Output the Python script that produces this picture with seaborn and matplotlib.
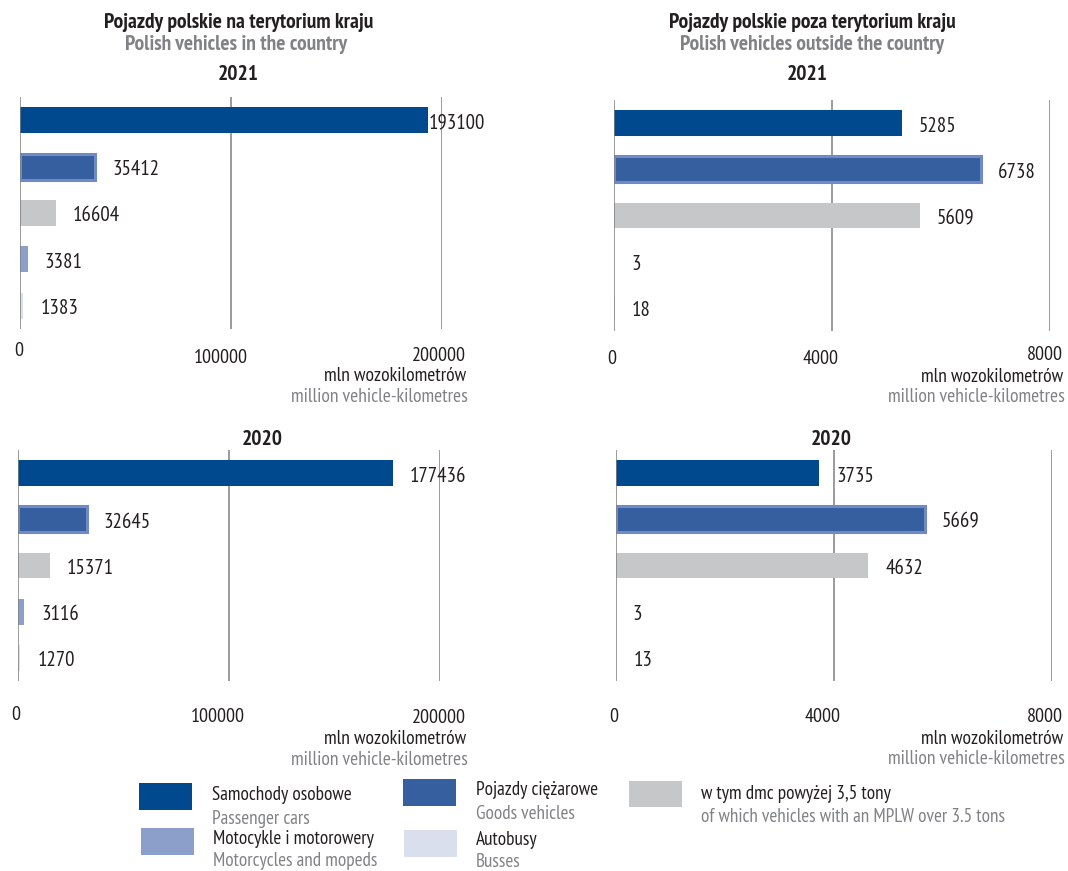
import matplotlib
matplotlib.use("Agg")
import matplotlib.pyplot as plt
import matplotlib.font_manager as fm
from matplotlib.patches import Rectangle
import pandas as pd
import seaborn as sns

# ---- data -------------------------------------------------------------
categories = ["Samochody osobowe", "Pojazdy ciężarowe", "w tym dmc powyżej 3,5 tony",
              "Motocykle i motorowery", "Autobusy"]
categories_en = ["Passenger cars", "Goods vehicles", "of which vehicles with an MPLW over 3.5 tons",
                 "Motorcycles and mopeds", "Busses"]

domestic_2021 = [193100, 35412, 16604, 3381, 1383]
domestic_2020 = [177436, 32645, 15371, 3116, 1270]
abroad_2021 = [5285, 6738, 5609, 3, 18]
abroad_2020 = [3735, 5669, 4632, 3, 13]

domestic_ticks = [0, 100000, 200000]
abroad_ticks = [0, 4000, 8000]

colors = ["#00498f", "#365f9f", "#c6c7c9", "#8b9fca", "#dadfed"]
goods_edge = "#7189c4"

# ---- style ------------------------------------------------------------
sns.set_theme(style="white")
names = {f.name for f in fm.fontManager.ttflist}
candidates = ["PT Sans Narrow", "Fira Sans Condensed", "Roboto Condensed",
              "Archivo Narrow", "Liberation Sans Narrow", "Open Sans Condensed"]
FONT = next((c for c in candidates if c in names), "DejaVu Sans")
plt.rcParams["font.family"] = [FONT, "DejaVu Sans"]
if FONT == "DejaVu Sans":
    plt.rcParams["font.stretch"] = "condensed"

DARK = "#231f20"
GREY_TXT = "#808285"
GRID = "#808080"

W, H = 1068, 871
fig = plt.figure(figsize=(W / 100, H / 100), dpi=100)
fig.patch.set_facecolor("white")


def fx(x):
    return x / W


def fy(y):
    return 1 - y / H


def add_panel(left, top, right, bottom):
    return fig.add_axes([fx(left), fy(bottom), (right - left) / W, (bottom - top) / H])


panels = [
    # values, ticks, axes box (px), tick label dy (px below axes), unit label dy
    dict(values=domestic_2021, ticks=domestic_ticks, box=(20.5, 97, 442.3, 329),
         tick_dy=[20, 27, 25], last_dx=24, unit_dy=(45, 66)),
    dict(values=abroad_2021, ticks=abroad_ticks, box=(614, 100, 1050, 331),
         tick_dy=[26, 26, 22], last_dx=13, unit_dy=(44, 64)),
    dict(values=domestic_2020, ticks=domestic_ticks, box=(17.7, 450, 440.3, 681),
         tick_dy=[32, 34, 35], last_dx=26, unit_dy=(56, 77)),
    dict(values=abroad_2020, ticks=abroad_ticks, box=(615.7, 450, 1052, 681),
         tick_dy=[34, 34, 34], last_dx=11, unit_dy=(56, 76)),
]

VAL_FS = 15
TICK_FS = 14.5
UNIT_FS = 14

for p in panels:
    ax = add_panel(*p["box"])
    df = pd.DataFrame({"category": categories, "value": p["values"]})
    sns.barplot(data=df, x="value", y="category", hue="category", palette=colors,
                order=categories, hue_order=categories, orient="h", width=0.56,
                legend=False, ax=ax, saturation=1, zorder=2)
    ax.set_xlim(p["ticks"][0], p["ticks"][-1])
    ax.set_ylim(4.5, -0.5)
    ax.set_xlabel("")
    ax.set_ylabel("")
    ax.set_xticks([])
    ax.set_yticks([])
    for s in ax.spines.values():
        s.set_visible(False)
    ax.patch.set_alpha(0)

    # goods vehicles bar has a lighter outline
    for bar in ax.patches:
        bar.set_linewidth(0)
    ax.patches[1].set_edgecolor(goods_edge)
    ax.patches[1].set_linewidth(2.2)

    # vertical grid lines (zero line included)
    for t in p["ticks"]:
        ax.axvline(t, color=GRID, lw=1.1, zorder=1 if t else 3)

    # value labels to the right of each bar
    right_px = ax.transData.transform((p["ticks"][-1], 0))[0]
    for i, v in enumerate(p["values"]):
        end_px = ax.transData.transform((v, i))[0]
        gap = 17 if end_px + 17 < right_px else 1
        ax.annotate(f"{v}", xy=(v, i), xytext=(gap, -1), textcoords="offset pixels",
                    ha="left", va="center_baseline", fontsize=VAL_FS, color=DARK,
                    annotation_clip=False, zorder=4)

    # x tick labels below the plot
    n = len(p["ticks"])
    for k, t in enumerate(p["ticks"]):
        if k == 0:
            dx, ha = -2, "center"
        elif k == n - 1:
            dx, ha = p["last_dx"], "right"
        else:
            dx, ha = -11, "center"
        ax.annotate(f"{t}", xy=(t, 0), xycoords=("data", "axes fraction"),
                    xytext=(dx, -p["tick_dy"][k]), textcoords="offset pixels",
                    ha=ha, va="center_baseline", fontsize=TICK_FS, color=DARK,
                    annotation_clip=False)

    # unit labels
    ax.annotate("mln wozokilometrów", xy=(1, 0), xycoords="axes fraction",
                xytext=(p["last_dx"], -p["unit_dy"][0]), textcoords="offset pixels",
                ha="right", va="center_baseline", fontsize=UNIT_FS, color=DARK)
    ax.annotate("million vehicle-kilometres", xy=(1, 0), xycoords="axes fraction",
                xytext=(p["last_dx"] + 2, -p["unit_dy"][1]), textcoords="offset pixels",
                ha="right", va="center_baseline", fontsize=UNIT_FS, color=GREY_TXT)

# ---- headings ---------------------------------------------------------
TITLE_FS = 15.5
fig.text(fx(239), fy(21), "Pojazdy polskie na terytorium kraju", ha="center",
         va="center_baseline", fontsize=TITLE_FS, fontweight="bold", color=DARK)
fig.text(fx(236), fy(43), "Polish vehicles in the country", ha="center",
         va="center_baseline", fontsize=TITLE_FS, fontweight="bold", color=GREY_TXT)
fig.text(fx(812), fy(21), "Pojazdy polskie poza terytorium kraju", ha="center",
         va="center_baseline", fontsize=TITLE_FS, fontweight="bold", color=DARK)
fig.text(fx(812), fy(43), "Polish vehicles outside the country", ha="center",
         va="center_baseline", fontsize=TITLE_FS, fontweight="bold", color=GREY_TXT)
for x, y, yr in [(238, 73, "2021"), (807, 73, "2021"), (262, 437, "2020"), (831, 437, "2020")]:
    fig.text(fx(x), fy(y), yr, ha="center", va="center_baseline",
             fontsize=TITLE_FS, fontweight="bold", color=DARK)

# ---- legend -----------------------------------------------------------
LEG_FS = 13.9
legend_items = [
    # swatch box (left, top, right, bottom), text x, line y positions
    (0, (139, 783, 192, 810), 212, (793, 817)),
    (3, (141, 828, 194, 855), 213, (837, 859)),
    (1, (403, 779, 456, 806), 476, (788, 812)),
    (4, (404, 830, 457, 857), 476, (838, 860)),
    (2, (629, 781, 682, 807), 701, (792, 815)),
]
for idx, (l, t, r, b), tx, (y1, y2) in legend_items:
    fig.patches.append(Rectangle((fx(l), fy(b)), (r - l) / W, (b - t) / H,
                                 transform=fig.transFigure, facecolor=colors[idx],
                                 edgecolor="none"))
    fig.text(fx(tx), fy(y1), categories[idx], ha="left", va="center_baseline",
             fontsize=LEG_FS, color=DARK)
    fig.text(fx(tx), fy(y2), categories_en[idx], ha="left", va="center_baseline",
             fontsize=LEG_FS, color=GREY_TXT)

fig.savefig("out.png", dpi=100, facecolor="white")
